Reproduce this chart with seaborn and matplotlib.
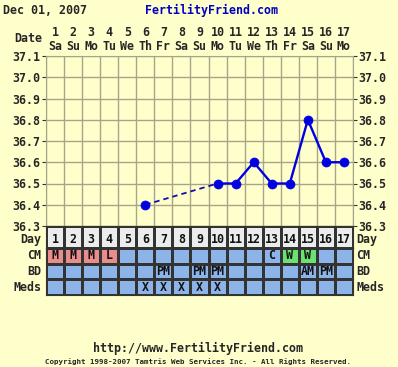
import numpy as np
import pandas as pd
import matplotlib
matplotlib.use("Agg")
import matplotlib.pyplot as plt
from matplotlib.colors import ListedColormap
import seaborn as sns

# chart data
days = list(range(1, 18))
weekdays = ['Sa', 'Su', 'Mo', 'Tu', 'We', 'Th', 'Fr', 'Sa', 'Su',
            'Mo', 'Tu', 'We', 'Th', 'Fr', 'Sa', 'Su', 'Mo']
temp_days = [6, 10, 11, 12, 13, 14, 15, 16, 17]
temps = [36.4, 36.5, 36.5, 36.6, 36.5, 36.5, 36.8, 36.6, 36.6]
y_ticks = [36.3, 36.4, 36.5, 36.6, 36.7, 36.8, 36.9, 37.0, 37.1]
cm = ['M', 'M', 'M', 'L', '', '', '', '', '', '', '', '', 'C', 'W', 'W', '', '']
bd = ['', '', '', '', '', '', 'PM', '', 'PM', 'PM', '', '', '', '', 'AM', 'PM', '']
meds = ['', '', '', '', '', 'X', 'X', 'X', 'X', 'X', '', '', '', '', '', '', '']
row_labels = ['CM', 'BD', 'Meds']

BG = '#FFFFCC'
GRID = '#A8A488'
BLUE = '#0000E0'
LINE = '#333333'
mono = 'DejaVu Sans Mono'
fs = 8.4

sns.set_style("white")
plt.rcParams['font.family'] = [mono, 'DejaVu Sans']
plt.rcParams['font.weight'] = 'bold'

fig = plt.figure(figsize=(3.98, 3.67), dpi=100, facecolor=BG)
L, W = 46 / 398, 307 / 398

# temperature panel
ax = fig.add_axes([L, (367 - 226) / 367, W, 170 / 367])
ax.set_facecolor(BG)
df = pd.DataFrame({'day': temp_days, 'temp': temps})
solid = df[df['day'] >= 10]
dashed = df[df['day'] <= 10]
sns.lineplot(data=dashed, x='day', y='temp', ax=ax, color='#1010A8',
             linestyle=(0, (3, 2.2)), linewidth=1.3)
sns.lineplot(data=solid, x='day', y='temp', ax=ax, color=BLUE, linewidth=1.7)
sns.scatterplot(data=df, x='day', y='temp', ax=ax, color=BLUE, s=42,
                edgecolor=BLUE, zorder=5)
ax.set_xlim(0.5, 17.5)
ax.set_ylim(36.3, 37.1)
ax.set_xticks(np.arange(0.5, 18, 1))
ax.set_xticklabels([])
ax.tick_params(axis='x', length=0)
ax.set_yticks(y_ticks)
ax.set_yticklabels([f'{t:.1f}' for t in y_ticks], fontsize=fs,
                   fontweight='bold')
ax.tick_params(axis='y', left=True, right=True, labelright=True,
               length=3, width=0.8, color=LINE, pad=1)
ax.grid(True, color=GRID, linewidth=1)
for s in ax.spines.values():
    s.set_color(GRID)
ax.set_xlabel('')
ax.set_ylabel('')

for d, wd in zip(days, weekdays):
    ax.text(d, 1.0 + 23 / 170, str(d), ha='center', va='center',
            transform=ax.get_xaxis_transform(), fontsize=fs, fontweight='bold')
    ax.text(d, 1.0 + 10 / 170, wd, ha='center', va='center',
            transform=ax.get_xaxis_transform(), fontsize=fs, fontweight='bold')
fig.text(42 / 398, 1 - 38 / 367, 'Date', ha='right', va='center',
         fontsize=fs, fontweight='bold')

# day row
dax = fig.add_axes([L, (367 - 248) / 367, W, 22 / 367])
sns.heatmap(np.zeros((1, 17)), ax=dax, cmap=ListedColormap(['#ECECEC']),
            cbar=False, annot=np.array([[str(d) for d in days]]), fmt='',
            linewidths=1, linecolor=LINE, xticklabels=False, yticklabels=False,
            annot_kws={'fontsize': fs, 'fontweight': 'bold', 'color': '#111111',
                       'va': 'center'})
for t in dax.texts:
    t.set_y(0.62)
dax.text(-0.25, 0.62, 'Day', ha='right', va='center', fontsize=fs,
         fontweight='bold', clip_on=False)
dax.text(17.2, 0.62, 'Day', ha='left', va='center', fontsize=fs,
         fontweight='bold', clip_on=False)

# CM / BD / Meds rows
tax = fig.add_axes([L, (367 - 295) / 367, W, 47 / 367])
codes = np.ones((3, 17))
for i, v in enumerate(cm):
    if v in ('M', 'L'):
        codes[0, i] = 2
    elif v == 'W':
        codes[0, i] = 3
annot = np.array([cm, bd, meds])
cmap = ListedColormap(['#ECECEC', '#8DB4E8', '#E88C8C', '#6CE070'])
sns.heatmap(codes, ax=tax, cmap=cmap, vmin=-0.5, vmax=3.5, cbar=False,
            annot=annot, fmt='', linewidths=1, linecolor=LINE,
            xticklabels=False, yticklabels=False,
            annot_kws={'fontsize': fs, 'fontweight': 'bold', 'color': '#111111'})
for s in list(tax.spines.values()) + list(dax.spines.values()):
    s.set_visible(True)
    s.set_color(LINE)
for i, lab in enumerate(row_labels):
    tax.text(-0.25, i + 0.5, lab, ha='right', va='center', fontsize=fs,
             fontweight='bold', clip_on=False)
    tax.text(17.2, i + 0.5, lab, ha='left', va='center', fontsize=fs,
             fontweight='bold', clip_on=False)

# titles and footer
fig.text(3 / 398, 1 - 10 / 367, 'Dec 01, 2007', ha='left', va='center',
         fontsize=fs, fontweight='bold')
fig.text(212 / 398, 1 - 10 / 367, 'FertilityFriend.com', ha='center',
         va='center', fontsize=fs, fontweight='bold', color='#0000C0')
fig.text(198 / 398, 1 - 348 / 367, 'http://www.FertilityFriend.com',
         ha='center', va='center', fontsize=fs, fontweight='bold')
fig.text(198 / 398, 1 - 362 / 367,
         'Copyright 1998-2007 Tamtris Web Services Inc. - All Rights Reserved.',
         ha='center', va='center', fontsize=5.4)

fig.savefig('out.png', dpi=100, facecolor=BG)
